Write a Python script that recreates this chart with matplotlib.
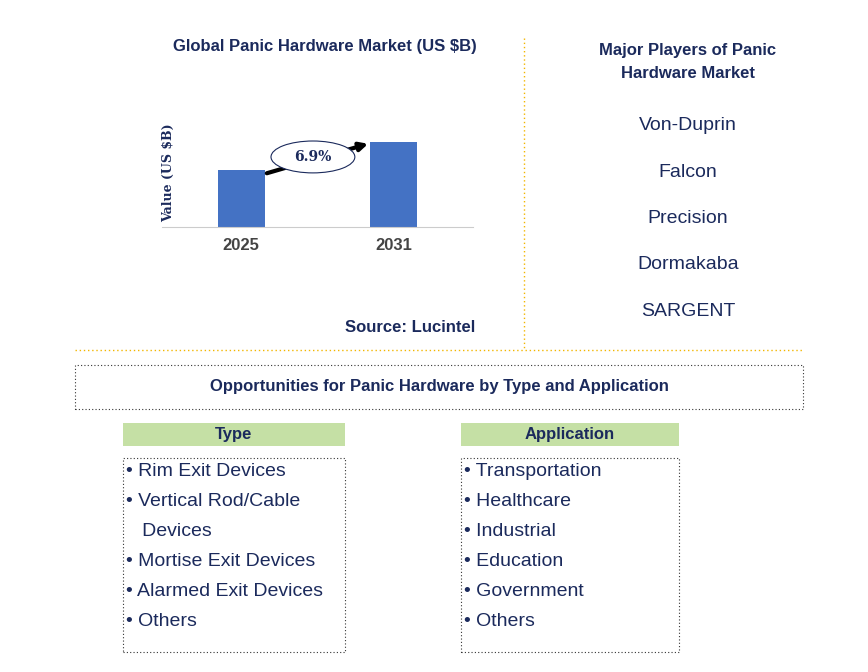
import matplotlib.pyplot as plt
from matplotlib.patches import Rectangle, Ellipse
from matplotlib.lines import Line2D

plt.rcParams["font.family"] = "Liberation Sans"

years = ["2025", "2031"]
values = [1.0, 1.49]
cagr_label = "6.9%"
players = ["Von-Duprin", "Falcon", "Precision", "Dormakaba", "SARGENT"]
type_items = ["• Rim Exit Devices", "• Vertical Rod/Cable", "   Devices",
              "• Mortise Exit Devices", "• Alarmed Exit Devices", "• Others"]
app_items = ["• Transportation", "• Healthcare", "• Industrial",
             "• Education", "• Government", "• Others"]

W, H = 868, 672
NAVY = "#1b2a5c"
BLUE = "#4472c4"
GREEN = "#c5e0a5"
GOLD = "#f2b600"

fig = plt.figure(figsize=(W / 100, H / 100), dpi=100)


def fx(x):
    return x / W


def fy(y):
    return 1 - y / H


def text(x, y, s, **kw):
    fig.text(fx(x), fy(y), s, **kw)


# bar chart
ax = fig.add_axes([fx(162), fy(227), fx(473) - fx(162), (227 - 100) / H])
ax.bar([0, 1], values, width=0.31, color=BLUE)
ax.set_xlim(-0.52, 1.52)
ax.set_ylim(0, 2.23)
ax.set_xticks([0, 1])
ax.set_xticklabels(years, fontsize=12, fontweight="bold", color="#444444")
ax.set_yticks([])
for s in ["top", "right", "left"]:
    ax.spines[s].set_visible(False)
ax.spines["bottom"].set_color("#cccccc")
ax.tick_params(axis="x", length=0, pad=8)
ax.text(0.02, 0.43, "Value (US $B)", transform=ax.transAxes, rotation=90,
        ha="center", va="center", fontsize=9, fontweight="bold", color=NAVY,
        fontfamily="DejaVu Serif")
ax.annotate("", xy=(0.85, 1.475), xytext=(0.15, 0.93),
            arrowprops=dict(arrowstyle="-|>", color="black", lw=3, mutation_scale=12),
            zorder=2)
ax.add_patch(Ellipse((0.47, 1.23), 0.55, 0.56, facecolor="white", edgecolor=NAVY, lw=0.8, zorder=3))
ax.text(0.47, 1.23, cagr_label, ha="center", va="center", fontsize=10,
        fontweight="bold", color=NAVY, fontfamily="DejaVu Serif", zorder=4)

text(325, 46, "Global Panic Hardware Market (US $B)", ha="center", va="center",
     fontsize=12, fontweight="bold", color=NAVY)
text(410, 328, "Source: Lucintel", ha="center", va="center",
     fontsize=12, fontweight="bold", color=NAVY)

# dividers
fig.add_artist(Line2D([fx(524), fx(524)], [fy(38), fy(348)], color=GOLD, lw=1, ls=(0, (1, 2))))
fig.add_artist(Line2D([fx(75), fx(803)], [fy(350), fy(350)], color=GOLD, lw=1, ls=(0, (1, 2))))

# players
text(688, 62, "Major Players of Panic\nHardware Market", ha="center", va="center",
     fontsize=12, fontweight="bold", color=NAVY, linespacing=1.6)
for i, p in enumerate(players):
    text(688, 126 + i * 46.3, p, ha="center", va="center", fontsize=14, color=NAVY)

# opportunities box
fig.add_artist(Rectangle((fx(75), fy(409)), fx(803) - fx(75), (409 - 365) / H,
                         fill=False, ec="#333333", lw=0.8, ls=(0, (1, 2))))
text(439, 387, "Opportunities for Panic Hardware by Type and Application",
     ha="center", va="center", fontsize=12, fontweight="bold", color=NAVY)


def column(x0, x1, title, items):
    fig.add_artist(Rectangle((fx(x0), fy(446)), fx(x1) - fx(x0), 23 / H,
                             facecolor=GREEN, edgecolor="none"))
    text((x0 + x1) / 2, 434, title, ha="center", va="center",
         fontsize=12, fontweight="bold", color=NAVY)
    fig.add_artist(Rectangle((fx(x0), fy(652)), fx(x1) - fx(x0), (652 - 458) / H,
                             fill=False, ec="#333333", lw=0.8, ls=(0, (1, 2))))
    for i, s in enumerate(items):
        text(x0 + 3, 471 + i * 30, s, ha="left", va="center", fontsize=14, color=NAVY)


column(123, 345, "Type", type_items)
column(461, 679, "Application", app_items)

fig.savefig("out.png", dpi=100)
